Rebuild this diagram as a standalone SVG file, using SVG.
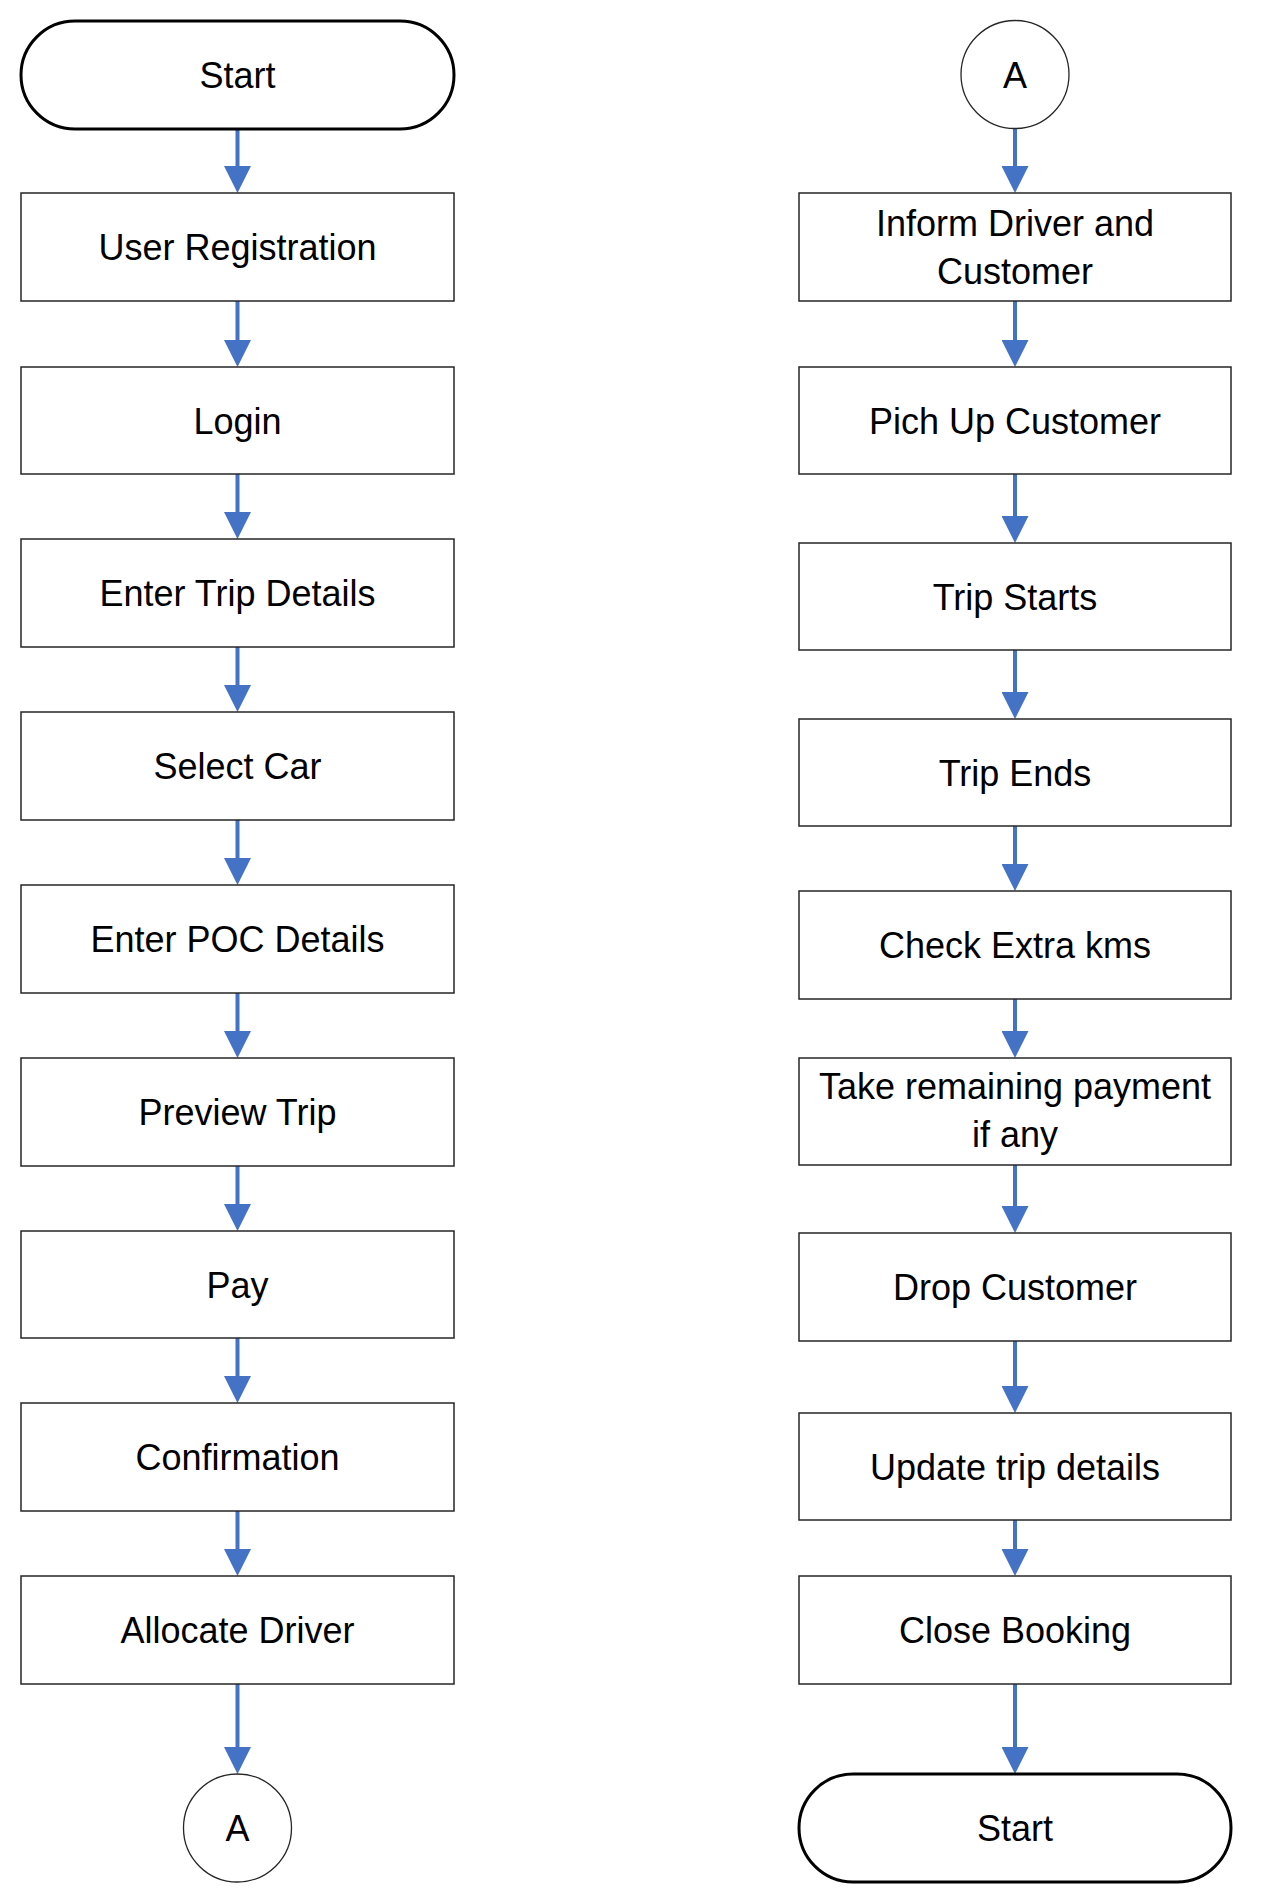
<svg xmlns="http://www.w3.org/2000/svg" width="1266" height="1904" viewBox="0 0 1266 1904">
<style>
  .box{fill:#fff;stroke:#262626;stroke-width:1.5}
  .term{fill:#fff;stroke:#000;stroke-width:3}
  .circ{fill:#fff;stroke:#262626;stroke-width:1.3}
  .lbl{font-family:"Liberation Sans",Arial,sans-serif;font-size:36px;fill:#000;text-anchor:middle}
  .conn{stroke:#4472C4;stroke-width:4;fill:none;marker-end:url(#ah)}
</style>
<defs>
  <marker id="ah" viewBox="0 0 27 27" refX="0" refY="13.5" markerWidth="27" markerHeight="27" markerUnits="userSpaceOnUse" orient="auto">
    <path d="M0,0 L27,13.5 L0,27 Z" fill="#4472C4"/>
  </marker>
</defs>
<rect width="1266" height="1904" fill="#fff"/>

<g id="connectors">
  <line class="conn" x1="237.5" y1="129" x2="237.5" y2="166"/>
  <line class="conn" x1="237.5" y1="301" x2="237.5" y2="340"/>
  <line class="conn" x1="237.5" y1="474" x2="237.5" y2="512"/>
  <line class="conn" x1="237.5" y1="647" x2="237.5" y2="685"/>
  <line class="conn" x1="237.5" y1="820" x2="237.5" y2="858"/>
  <line class="conn" x1="237.5" y1="993" x2="237.5" y2="1031"/>
  <line class="conn" x1="237.5" y1="1166" x2="237.5" y2="1204"/>
  <line class="conn" x1="237.5" y1="1338" x2="237.5" y2="1376"/>
  <line class="conn" x1="237.5" y1="1511" x2="237.5" y2="1549"/>
  <line class="conn" x1="237.5" y1="1684" x2="237.5" y2="1747"/>

  <line class="conn" x1="1015" y1="128" x2="1015" y2="166"/>
  <line class="conn" x1="1015" y1="301" x2="1015" y2="340"/>
  <line class="conn" x1="1015" y1="474" x2="1015" y2="516"/>
  <line class="conn" x1="1015" y1="650" x2="1015" y2="692"/>
  <line class="conn" x1="1015" y1="826" x2="1015" y2="864"/>
  <line class="conn" x1="1015" y1="999" x2="1015" y2="1031"/>
  <line class="conn" x1="1015" y1="1165" x2="1015" y2="1206"/>
  <line class="conn" x1="1015" y1="1341" x2="1015" y2="1386"/>
  <line class="conn" x1="1015" y1="1520" x2="1015" y2="1549"/>
  <line class="conn" x1="1015" y1="1684" x2="1015" y2="1747"/>
</g>

<g id="start">
  <rect class="term" x="21" y="21" width="433" height="108" rx="54" ry="54"/>
  <text class="lbl" x="237.5" y="87.5">Start</text>
</g>
<g id="user-registration">
  <rect class="box" x="21" y="193" width="433" height="108"/>
  <text class="lbl" x="237.5" y="260">User Registration</text>
</g>
<g id="login">
  <rect class="box" x="21" y="367" width="433" height="107"/>
  <text class="lbl" x="237.5" y="433.5">Login</text>
</g>
<g id="enter-trip-details">
  <rect class="box" x="21" y="539" width="433" height="108"/>
  <text class="lbl" x="237.5" y="606">Enter Trip Details</text>
</g>
<g id="select-car">
  <rect class="box" x="21" y="712" width="433" height="108"/>
  <text class="lbl" x="237.5" y="779">Select Car</text>
</g>
<g id="enter-poc-details">
  <rect class="box" x="21" y="885" width="433" height="108"/>
  <text class="lbl" x="237.5" y="952">Enter POC Details</text>
</g>
<g id="preview-trip">
  <rect class="box" x="21" y="1058" width="433" height="108"/>
  <text class="lbl" x="237.5" y="1125">Preview Trip</text>
</g>
<g id="pay">
  <rect class="box" x="21" y="1231" width="433" height="107"/>
  <text class="lbl" x="237.5" y="1297.5">Pay</text>
</g>
<g id="confirmation">
  <rect class="box" x="21" y="1403" width="433" height="108"/>
  <text class="lbl" x="237.5" y="1470">Confirmation</text>
</g>
<g id="allocate-driver">
  <rect class="box" x="21" y="1576" width="433" height="108"/>
  <text class="lbl" x="237.5" y="1643">Allocate Driver</text>
</g>
<g id="connector-a-out">
  <circle class="circ" cx="237.5" cy="1828" r="54"/>
  <text class="lbl" x="237.5" y="1841">A</text>
</g>

<g id="connector-a-in">
  <circle class="circ" cx="1015" cy="74.5" r="54"/>
  <text class="lbl" x="1015" y="87.5">A</text>
</g>
<g id="inform-driver">
  <rect class="box" x="799" y="193" width="432" height="108"/>
  <text class="lbl" x="1015" y="236">Inform Driver and</text>
  <text class="lbl" x="1015" y="284">Customer</text>
</g>
<g id="pick-up-customer">
  <rect class="box" x="799" y="367" width="432" height="107"/>
  <text class="lbl" x="1015" y="433.5">Pich Up Customer</text>
</g>
<g id="trip-starts">
  <rect class="box" x="799" y="543" width="432" height="107"/>
  <text class="lbl" x="1015" y="609.5">Trip Starts</text>
</g>
<g id="trip-ends">
  <rect class="box" x="799" y="719" width="432" height="107"/>
  <text class="lbl" x="1015" y="785.5">Trip Ends</text>
</g>
<g id="check-extra-kms">
  <rect class="box" x="799" y="891" width="432" height="108"/>
  <text class="lbl" x="1015" y="958">Check Extra kms</text>
</g>
<g id="take-remaining-payment">
  <rect class="box" x="799" y="1058" width="432" height="107"/>
  <text class="lbl" x="1015" y="1099">Take remaining payment</text>
  <text class="lbl" x="1015" y="1147">if any</text>
</g>
<g id="drop-customer">
  <rect class="box" x="799" y="1233" width="432" height="108"/>
  <text class="lbl" x="1015" y="1300">Drop Customer</text>
</g>
<g id="update-trip-details">
  <rect class="box" x="799" y="1413" width="432" height="107"/>
  <text class="lbl" x="1015" y="1479.5">Update trip details</text>
</g>
<g id="close-booking">
  <rect class="box" x="799" y="1576" width="432" height="108"/>
  <text class="lbl" x="1015" y="1643">Close Booking</text>
</g>
<g id="end">
  <rect class="term" x="799" y="1774" width="432" height="108" rx="54" ry="54"/>
  <text class="lbl" x="1015" y="1841">Start</text>
</g>
</svg>
